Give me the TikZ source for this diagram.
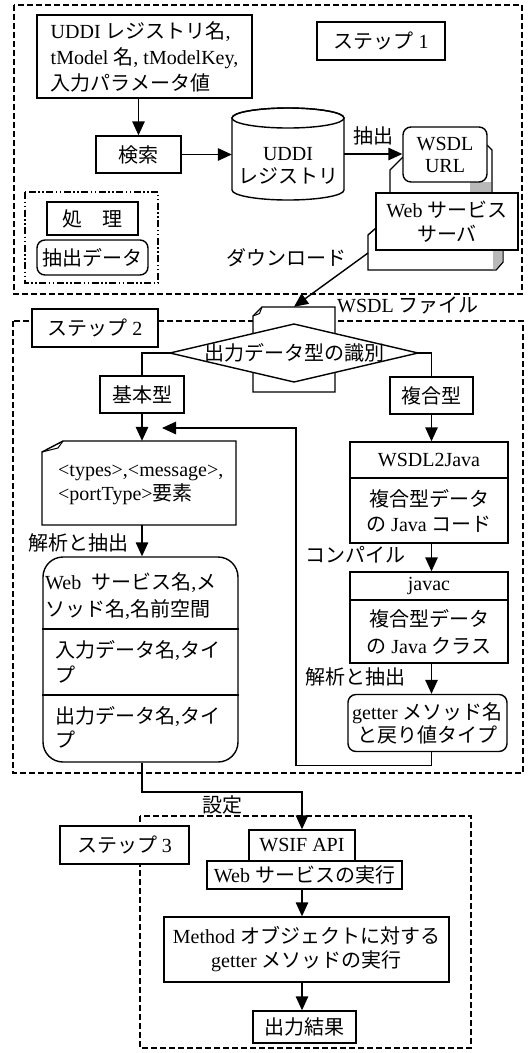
\documentclass[tikz,border=0pt]{standalone}
\usepackage{fontspec}
\setmainfont{Liberation Serif}
\newfontfamily\jpf{Noto Sans CJK JP}
\newcommand\jt[1]{{\jpf #1}}
\usetikzlibrary{arrows.meta}
\begin{document}
\begin{tikzpicture}[x=1pt,y=-1pt,
  font=\fontsize{20}{24}\selectfont,
  box/.style={draw,line width=1.4pt,fill=white,inner sep=0pt,align=center},
  rbox/.style={box,rounded corners=8pt},
  lbl/.style={inner sep=0pt},
  frame/.style={line width=1.3pt,dash pattern=on 6pt off 3pt},
  arr/.style={line width=1.4pt,-{Triangle[length=14pt,width=12.5pt]}},
  ln/.style={line width=1.4pt}]

\fill[white] (0,0) rectangle (529,1053);
\useasboundingbox (0,0) rectangle (529,1053);

% ---------------- Step 1 ----------------
\draw[frame] (14,5) rectangle (522,294);
\node[box,align=left,minimum width=215,minimum height=83,font=\fontsize{20}{26}\selectfont] (in) at (144.5,56.5)
  {UDDI \jt{レジストリ名},\\tModel \jt{名}, tModelKey,\\\jt{入力パラメータ値}};
\node[box,minimum width=128,minimum height=38] (s1) at (381,41) {\jt{ステップ} 1};
\node[box,minimum width=85,minimum height=37] (search) at (138.5,154.5) {\jt{検索}};
\draw[arr] (in.south -| search.north) -- (search.north);

% cylinder
\node[lbl,minimum width=112,minimum height=92] (db) at (288,154) {};
\draw[ln,fill=white] (232,118) -- (232,190) arc[start angle=180,end angle=360,x radius=56pt,y radius=10pt]
  -- (344,118) arc[start angle=0,end angle=180,x radius=56pt,y radius=10pt] -- cycle;
\draw[ln] (288,118) ellipse [x radius=56pt,y radius=10pt];
\node[lbl,align=center,font=\fontsize{20}{23}\selectfont] (dbt) at (288,166) {UDDI\\\jt{レジストリ}};

% WSDL URL with back
\draw[ln,fill=white] (403,157) -- (390,170) -- (390,193) -- (492,193) -- (492,150) -- (487,145);
\fill[gray!55] (470,182) rectangle (491.3,192.3);
\node[rbox,minimum width=84,minimum height=55,font=\fontsize{20}{22}\selectfont] (url) at (445,154.5) {WSDL\\URL};

% Web server with back
\draw[ln,fill=white] (376,228) -- (368,235) -- (368,270) -- (496,270) -- (503,262) -- (503,250);
\fill[gray!55] (493,250.7) -- (502.3,250.7) -- (502.3,261.7) -- (495.7,269.3) -- (493,269.3) -- cycle;
\node[box,minimum width=142,minimum height=57,font=\fontsize{20}{24}\selectfont] (web) at (447,221.5) {Web \jt{サービス}\\\jt{サーバ}};

\draw[arr] (search.east) -- (search.east -| db.west);
\draw[arr] (db.east) -- (db.east -| url.west) node[midway,above=8pt,lbl] (ext) {\jt{抽出}};

% legend
\draw[line width=1.3pt,dash pattern=on 7pt off 2.5pt on 1.5pt off 2.5pt on 1.5pt off 2.5pt] (25,192) rectangle (158,283);
\node[box,minimum width=91,minimum height=33] (proc) at (92.5,218.5) {\jt{処　理}};
\node[rbox,minimum width=111,minimum height=35] (dat) at (92.5,257.5) {\jt{抽出データ}};

% ---------------- Step 2 ----------------
\draw[frame] (13,321) rectangle (523,773);
\node[box,minimum width=126,minimum height=38] (s2) at (95,328) {\jt{ステップ} 2};

\node[lbl,minimum width=82,minimum height=85] (wsdl) at (294,349.5) {};
\draw[ln,fill=white] (262,307) -- (335,307) -- (335,392) -- (253,392) -- (253,316) -- cycle;
\draw[line width=1pt,line join=round] (253,316) -- (259.5,313.5) -- (262,307);
\node[lbl,anchor=west] (wf) at (337,305) {WSDL \jt{ファイル}};

\coordinate (dl) at (368,253);
\draw[arr] (dl) -- (wsdl.north);
\node[lbl] (dlt) at (286,258) {\jt{ダウンロード}};

\draw[ln,fill=white] (170,353) -- (294,324) -- (418,353) -- (294,382) -- cycle;
\node[lbl,minimum width=248,minimum height=58] (dia) at (294,353) {\jt{出力データ型の識別}};

\node[box,minimum width=84,minimum height=37] (kihon) at (142,394.5) {\jt{基本型}};
\node[box,minimum width=83,minimum height=37] (fuku) at (431.5,395.5) {\jt{複合型}};
\draw[ln] (dia.west) -| (kihon.north);
\draw[ln] (dia.east) -| (fuku.north);

% types document
\node[lbl,minimum width=194,minimum height=84] (types) at (139,483) {};
\draw[ln,fill=white] (63,441) -- (236,441) -- (236,525) -- (42,525) -- (42,452) -- cycle;
\draw[line width=1pt,line join=round] (42,452) -- (58,448) -- (63,441);
\node[lbl,anchor=west,align=left,font=\fontsize{20}{24}\selectfont] (typest) at (58,485) {<types>,<message>,\\<portType>\jt{要素}};
\draw[arr] (kihon.south) -- (kihon.south |- types.north);

% big rounded box
\node[box,rounded corners=20pt,minimum width=195,minimum height=205] (big) at (140.5,659.5) {};
\draw[ln] (big.west |- 0,629) -- (big.east |- 0,629);
\draw[ln] (big.west |- 0,695) -- (big.east |- 0,695);
\node[lbl,anchor=west,align=left,font=\fontsize{20}{27}\selectfont] (b1) at (45,596.5) {Web\ \ \jt{サービス名},\jt{メ}\\\jt{ソッド名},\jt{名前空間}};
\node[lbl,anchor=west,align=left,font=\fontsize{20}{25}\selectfont] (b2) at (55,662) {\jt{入力データ名},\jt{タイ}\\\jt{プ}};
\node[lbl,anchor=west,align=left,font=\fontsize{20}{24}\selectfont] (b3) at (55,727) {\jt{出力データ名},\jt{タイ}\\\jt{プ}};
\draw[arr] (kihon.south |- types.south) -- (kihon.south |- big.north);
\node[lbl] (ka1) at (78,543) {\jt{解析と抽出}};

% right column
\node[box,minimum width=158,minimum height=36] (w2j) at (429,460) {WSDL2Java};
\node[box,minimum width=158,minimum height=65,font=\fontsize{20}{25}\selectfont] (w2jb) at (429,510.5) {\jt{複合型データ}\\\jt{の} Java \jt{コード}};
\draw[arr] (fuku.south) -- (fuku.south |- w2j.north);
\node[lbl] (cmp) at (355,555) {\jt{コンパイル}};
\node[box,minimum width=158,minimum height=28] (jc) at (429,586) {javac};
\node[box,minimum width=158,minimum height=63,font=\fontsize{20}{27}\selectfont] (jcb) at (429,631.5) {\jt{複合型データ}\\\jt{の} Java \jt{クラス}};
\draw[arr] (fuku.south |- w2jb.south) -- (fuku.south |- jc.north);
\node[lbl] (ka2) at (355,677) {\jt{解析と抽出}};
\node[rbox,minimum width=159,minimum height=57,font=\fontsize{20}{23}\selectfont] (get) at (427.5,723) {getter \jt{メソッド名}\\\jt{と戻り値タイプ}};
\draw[arr] (fuku.south |- jcb.south) -- (fuku.south |- get.north);
\coordinate (ret) at (162,428);
\draw[arr] (fuku.south |- get.south) -- ++(0,13) -| (296,428) -- (ret);

% ---------------- Step 3 ----------------
\draw[frame] (140,816) rectangle (471,1048);
\node[box,minimum width=129,minimum height=38] (s3) at (124.5,845) {\jt{ステップ} 3};
\node[box,minimum width=106,minimum height=31] (wsif) at (302,845.5) {WSIF API};
\node[box,minimum width=195,minimum height=28] (wsx) at (304.5,875) {Web \jt{サービスの実行}};
\node[box,minimum width=285,minimum height=65,font=\fontsize{20}{24}\selectfont] (meth) at (306.5,949.5) {Method \jt{オブジェクトに対する}\\getter \jt{メソッドの実行}};
\node[box,minimum width=103,minimum height=32] (res) at (304.5,1027) {\jt{出力結果}};
\draw[arr] (wsx.south -| wsif.south) -- (wsif.south |- meth.north);
\draw[arr] (wsif.south |- meth.south) -- (wsif.south |- res.north);

\draw[arr] (kihon.south |- big.south) -- (142,792) -| (wsif.north);
\node[lbl] (set) at (222,805) {\jt{設定}};
\end{tikzpicture}
\end{document}
